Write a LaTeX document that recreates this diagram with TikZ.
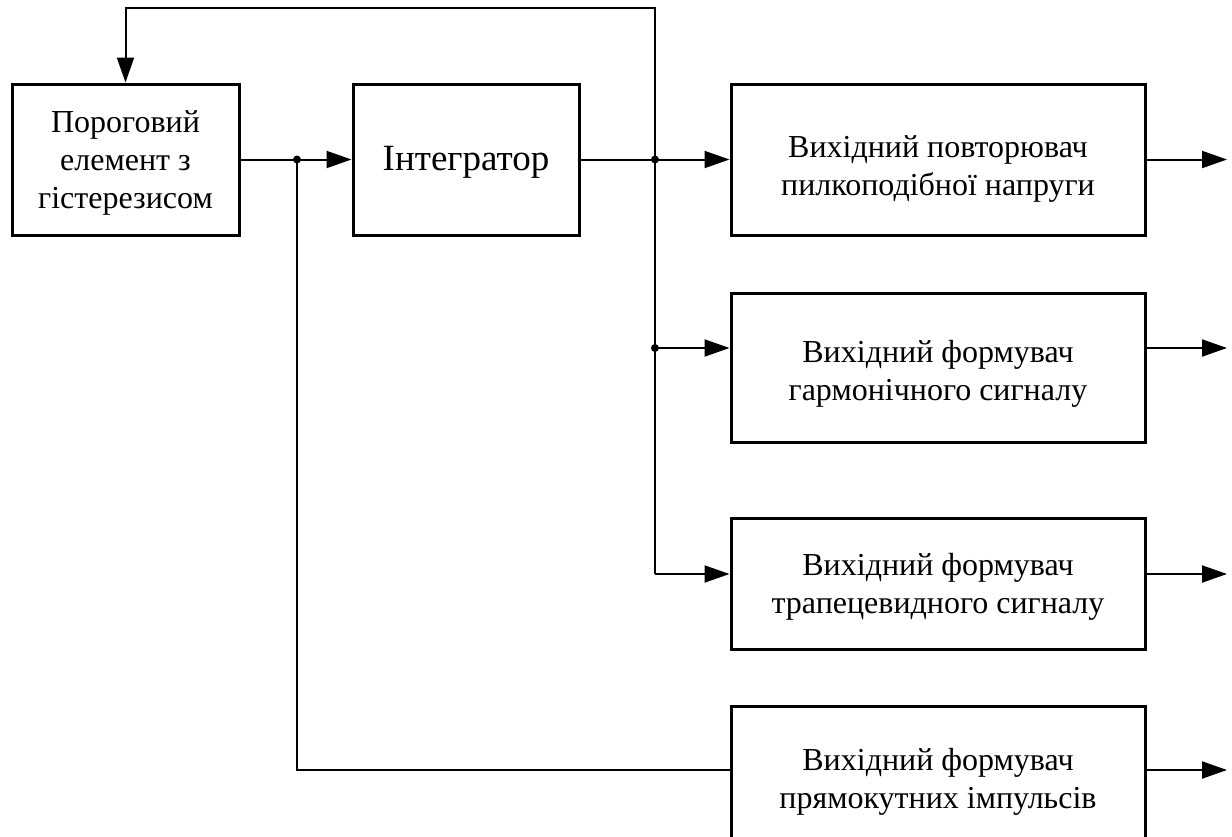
\documentclass[tikz,border=0pt]{standalone}
\usepackage{fontspec}
\setmainfont{Liberation Serif}
\usetikzlibrary{arrows.meta}

\begin{document}
\begin{tikzpicture}[x=1pt,y=-1pt,>={Triangle[length=25pt,width=17pt]},
  blk/.style={draw,line width=3pt,align=center,inner sep=0pt,text depth=0,
    font=\fontsize{32}{38}\selectfont},
  conn/.style={line width=2pt},
  arr/.style={conn,->}]
  \useasboundingbox (0,0) rectangle (1232,836);
  \clip (0,0) rectangle (1232,836);
  % blocks
  \node[blk,minimum width=227,minimum height=151,text height=97]
    (thr) at (125.5,159.5) {Пороговий\\елемент з\\гістерезисом};
  \node[blk,minimum width=226,minimum height=151,text height=25,text depth=4,
    font=\fontsize{37}{44}\selectfont] (integ) at (466,159.5) {Інтегратор};
  \node[blk,minimum width=414,minimum height=151,text height=71]
    (saw) at (938,159.5) {Вихідний повторювач\\пилкоподібної напруги};
  \node[blk,minimum width=414,minimum height=149,text height=65]
    (harm) at (938,367.5) {Вихідний формувач\\гармонічного сигналу};
  \node[blk,minimum width=414,minimum height=131,text height=59]
    (trap) at (938,583.5) {Вихідний формувач\\трапецевидного сигналу};
  \node[blk,minimum width=414,minimum height=150,text height=54]
    (rect) at (938,781) {Вихідний формувач\\прямокутних імпульсів};
  % branch points
  \coordinate (j1) at (297,159.5);
  \coordinate (j2) at (655,159.5);
  \coordinate (j3) at (655,348);
  \coordinate (j4) at (655,574);
  \coordinate (j5) at (297,770);
  \coordinate (fb) at (655,8);
  % links
  \draw[arr] (thr.east) -- (integ.west);
  \draw[arr] (integ.east) -- (saw.west);
  \draw[arr] (j2) -- (fb) -| (thr.north);
  \draw[conn] (j2) -- (j4);
  \draw[arr] (j3) -- (harm.west |- j3);
  \draw[arr] (j4) -- (trap.west |- j4);
  \draw[conn] (j1) -- (j5) -- (rect.west |- j5);
  % outputs
  \foreach \b/\y in {saw/159.5,harm/348,trap/574,rect/770} {
    \coordinate (out-\b) at (1227,\y);
    \draw[arr] (\b.east |- out-\b) -- (out-\b);
  }
  \foreach \j in {j1,j2,j3}
    \fill (\j) circle (4);
\end{tikzpicture}
\end{document}
